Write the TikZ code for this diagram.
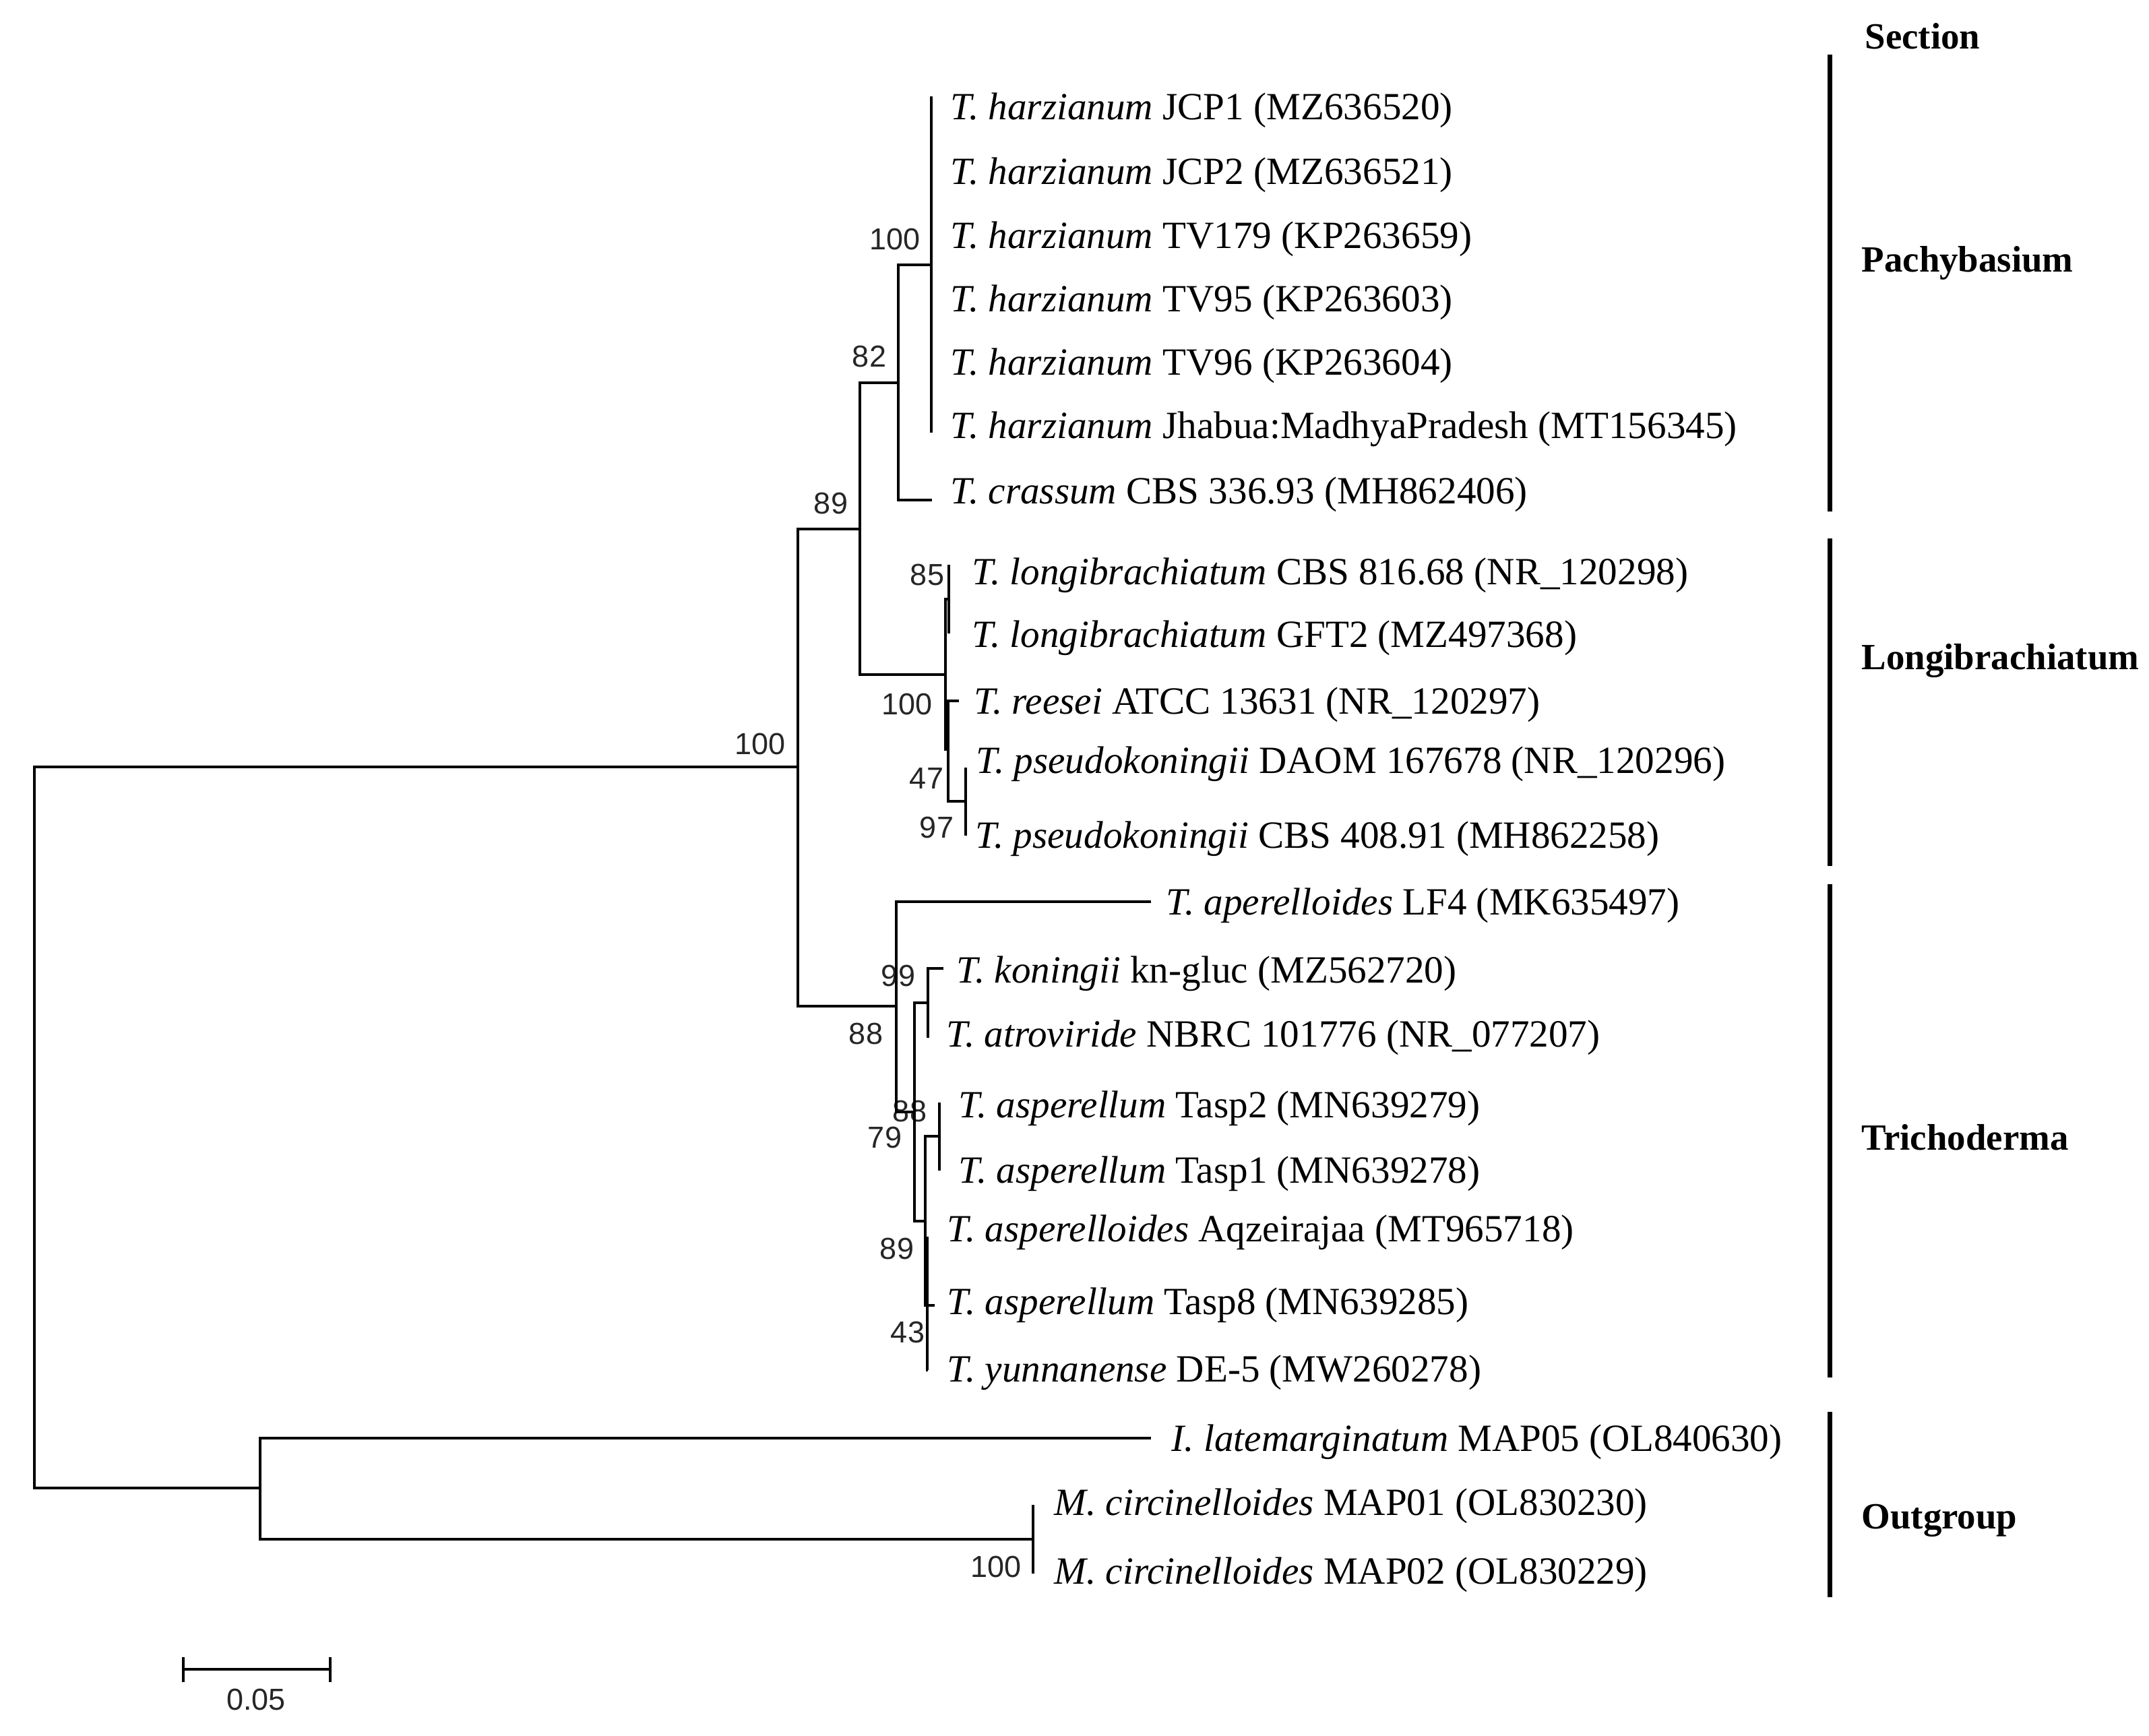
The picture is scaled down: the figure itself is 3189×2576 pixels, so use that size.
\documentclass[tikz,border=0pt]{standalone}
\usepackage{fontspec}
\setmainfont{Liberation Serif}
\newfontfamily\bsfont{Liberation Sans}
\begin{document}
\begin{tikzpicture}[x=0.01cm,y=-0.01cm,
  branch/.style={line width=0.9pt},
  sectbar/.style={line width=2pt},
  leaf/.style={anchor=base west,inner sep=0pt,xshift=-0.03cm,font=\fontsize{16.25}{19}\selectfont},
  boot/.style={anchor=center,inner sep=0pt,font=\bsfont\fontsize{12.8}{15}\selectfont,text=black!85},
  sect/.style={anchor=base west,inner sep=0pt,font=\bfseries\fontsize{15.6}{18}\selectfont}]
\useasboundingbox (0,0) rectangle (3189,2576);
\fill[white] (0,0) rectangle (3189,2576);

% ---------- bootstrap labels (drawn first, lines go over them)
\node[boot] (b100root) at (1128,1104) {100};
\node[boot] (b89) at (1233,747) {89};
\node[boot] (b82) at (1290,529) {82};
\node[boot] (b100h) at (1328,355) {100};
\node[boot] (b85) at (1376,853) {85};
\node[boot] (b100l) at (1346,1045) {100};
\node[boot] (b47) at (1375,1155) {47};
\node[boot] (b97) at (1390,1228) {97};
\node[boot] (b99) at (1333,1448) {99};
\node[boot] (b88) at (1285,1534) {88};
\node[boot] (b88b) at (1350,1649) {88};
\node[boot] (b79) at (1313,1688) {79};
\node[boot] (b89b) at (1331,1853) {89};
\node[boot] (b43) at (1347,1977) {43};
\node[boot] (b100m) at (1478,2325) {100};

% ---------- tree coordinates
\coordinate (root) at (51,1673);
\coordinate (nA) at (1184,1138);
\coordinate (nOut) at (386,2208);
\coordinate (n89) at (1276,785);
\coordinate (n88) at (1330,1493);
\coordinate (n82) at (1333,568);
\coordinate (nL) at (1403,1001);
\coordinate (nH) at (1382,393);
\coordinate (lcra) at (1383,742);
\coordinate (h1) at (1382,143);
\coordinate (h2) at (1382,243);
\coordinate (h3) at (1382,343);
\coordinate (h4) at (1382,443);
\coordinate (h5) at (1382,543);
\coordinate (h6) at (1382,642);
\coordinate (n85) at (1408,889);
\coordinate (l1) at (1408,838);
\coordinate (l2) at (1408,940);
\coordinate (n47) at (1407,1112);
\coordinate (lree) at (1423,1040);
\coordinate (n97) at (1433,1189);
\coordinate (p1) at (1433,1139);
\coordinate (p2) at (1433,1240);
\coordinate (lape) at (1708,1338);
\coordinate (nX) at (1357,1650);
\coordinate (n99) at (1377,1488);
\coordinate (lkon) at (1400,1437);
\coordinate (latr) at (1377,1540);
\coordinate (nY) at (1373,1812);
\coordinate (n88b) at (1394,1686);
\coordinate (t2) at (1394,1636);
\coordinate (t1) at (1394,1737);
\coordinate (nQ) at (1376,1937);
\coordinate (lasp) at (1376,1835);
\coordinate (t8) at (1387,1937);
\coordinate (lyun) at (1377,2033);
\coordinate (llat) at (1708,2134);
\coordinate (nM) at (1533,2284);
\coordinate (m1) at (1533,2233);
\coordinate (m2) at (1533,2335);

% ---------- branches
\draw[branch] (root) |- (nA);
\draw[branch] (root) |- (nOut);
\draw[branch] (nA) |- (n89);
\draw[branch] (nA) |- (n88);
\draw[branch] (n89) |- (n82);
\draw[branch] (n89) |- (nL);
\draw[branch] (n82) |- (nH);
\draw[branch] (n82) |- (lcra);
\foreach \h in {h1,h2,h3,h4,h5,h6} \draw[branch] (nH) |- (\h);
\draw[branch] (nL) |- (n85);
\draw[branch] (nL) |- (n47);
\draw[branch] (n85) |- (l1);
\draw[branch] (n85) |- (l2);
\draw[branch] (n47) |- (lree);
\draw[branch] (n47) |- (n97);
\draw[branch] (n97) |- (p1);
\draw[branch] (n97) |- (p2);
\draw[branch] (n88) |- (lape);
\draw[branch] (n88) |- (nX);
\draw[branch] (nX) |- (n99);
\draw[branch] (nX) |- (nY);
\draw[branch] (n99) |- (lkon);
\draw[branch] (n99) |- (latr);
\draw[branch] (nY) |- (n88b);
\draw[branch] (nY) |- (nQ);
\draw[branch] (n88b) |- (t2);
\draw[branch] (n88b) |- (t1);
\draw[branch] (nQ) |- (lasp);
\draw[branch] (nQ) |- (t8);
\draw[branch] (nQ) |- (lyun);
\draw[branch] (nOut) |- (llat);
\draw[branch] (nOut) |- (nM);
\draw[branch] (nM) |- (m1);
\draw[branch] (nM) |- (m2);

% ---------- leaf labels
\node[leaf] (th1) at (1413,178) {\textit{T. harzianum} JCP1 (MZ636520)};
\node[leaf] (th2) at (1413,274) {\textit{T. harzianum} JCP2 (MZ636521)};
\node[leaf] (th3) at (1413,369) {\textit{T. harzianum} TV179 (KP263659)};
\node[leaf] (th4) at (1413,463) {\textit{T. harzianum} TV95 (KP263603)};
\node[leaf] (th5) at (1413,557) {\textit{T. harzianum} TV96 (KP263604)};
\node[leaf] (th6) at (1413,651) {\textit{T. harzianum} Jhabua:MadhyaPradesh (MT156345)};
\node[leaf] (tcra) at (1413,748) {\textit{T. crassum} CBS 336.93 (MH862406)};
\node[leaf] (tl1) at (1445,867) {\textit{T. longibrachiatum} CBS 816.68 (NR\_120298)};
\node[leaf] (tl2) at (1445,960) {\textit{T. longibrachiatum} GFT2 (MZ497368)};
\node[leaf] (tree) at (1448,1060) {\textit{T. reesei} ATCC 13631 (NR\_120297)};
\node[leaf] (tp1) at (1451,1147) {\textit{T. pseudokoningii} DAOM 167678 (NR\_120296)};
\node[leaf] (tp2) at (1450,1258) {\textit{T. pseudokoningii} CBS 408.91 (MH862258)};
\node[leaf] (tape) at (1733,1357) {\textit{T. aperelloides} LF4 (MK635497)};
\node[leaf] (tkon) at (1422,1458) {\textit{T. koningii} kn-gluc (MZ562720)};
\node[leaf] (tatr) at (1407,1553) {\textit{T. atroviride} NBRC 101776 (NR\_077207)};
\node[leaf] (tt2) at (1425,1658) {\textit{T. asperellum} Tasp2 (MN639279)};
\node[leaf] (tt1) at (1425,1755) {\textit{T. asperellum} Tasp1 (MN639278)};
\node[leaf] (tasp) at (1408,1842) {\textit{T. asperelloides} Aqzeirajaa (MT965718)};
\node[leaf] (tt8) at (1408,1950) {\textit{T. asperellum} Tasp8 (MN639285)};
\node[leaf] (tyun) at (1408,2050) {\textit{T. yunnanense} DE-5 (MW260278)};
\node[leaf] (tlat) at (1741,2153) {\textit{I. latemarginatum} MAP05 (OL840630)};
\node[leaf] (tm1) at (1567,2248) {\textit{M. circinelloides} MAP01 (OL830230)};
\node[leaf] (tm2) at (1567,2350) {\textit{M. circinelloides} MAP02 (OL830229)};

% ---------- sections
\node[sect] (sSec) at (2767,73) {Section};
\node[sect] (sPac) at (2762,404) {Pachybasium};
\node[sect] (sLon) at (2762,994) {Longibrachiatum};
\node[sect] (sTri) at (2762,1706) {Trichoderma};
\node[sect] (sOut) at (2762,2268) {Outgroup};
\coordinate (bP1) at (2715,81);   \coordinate (bP2) at (2715,759);
\coordinate (bL1) at (2715,799);  \coordinate (bL2) at (2715,1285);
\coordinate (bT1) at (2715,1312); \coordinate (bT2) at (2715,2044);
\coordinate (bO1) at (2715,2095); \coordinate (bO2) at (2715,2370);
\draw[sectbar] (bP1) -- (bP2);
\draw[sectbar] (bL1) -- (bL2);
\draw[sectbar] (bT1) -- (bT2);
\draw[sectbar] (bO1) -- (bO2);

% ---------- scale bar
\coordinate (sb1) at (272,2477);
\coordinate (sb2) at (490,2477);
\draw[branch] (sb1) -- (sb2);
\draw[branch] ([yshift=-0.19cm]sb1) -- ([yshift=0.18cm]sb1);
\draw[branch] ([yshift=-0.19cm]sb2) -- ([yshift=0.18cm]sb2);
\node[boot] (sblab) at (380,2522) {0.05};
\end{tikzpicture}
\end{document}
